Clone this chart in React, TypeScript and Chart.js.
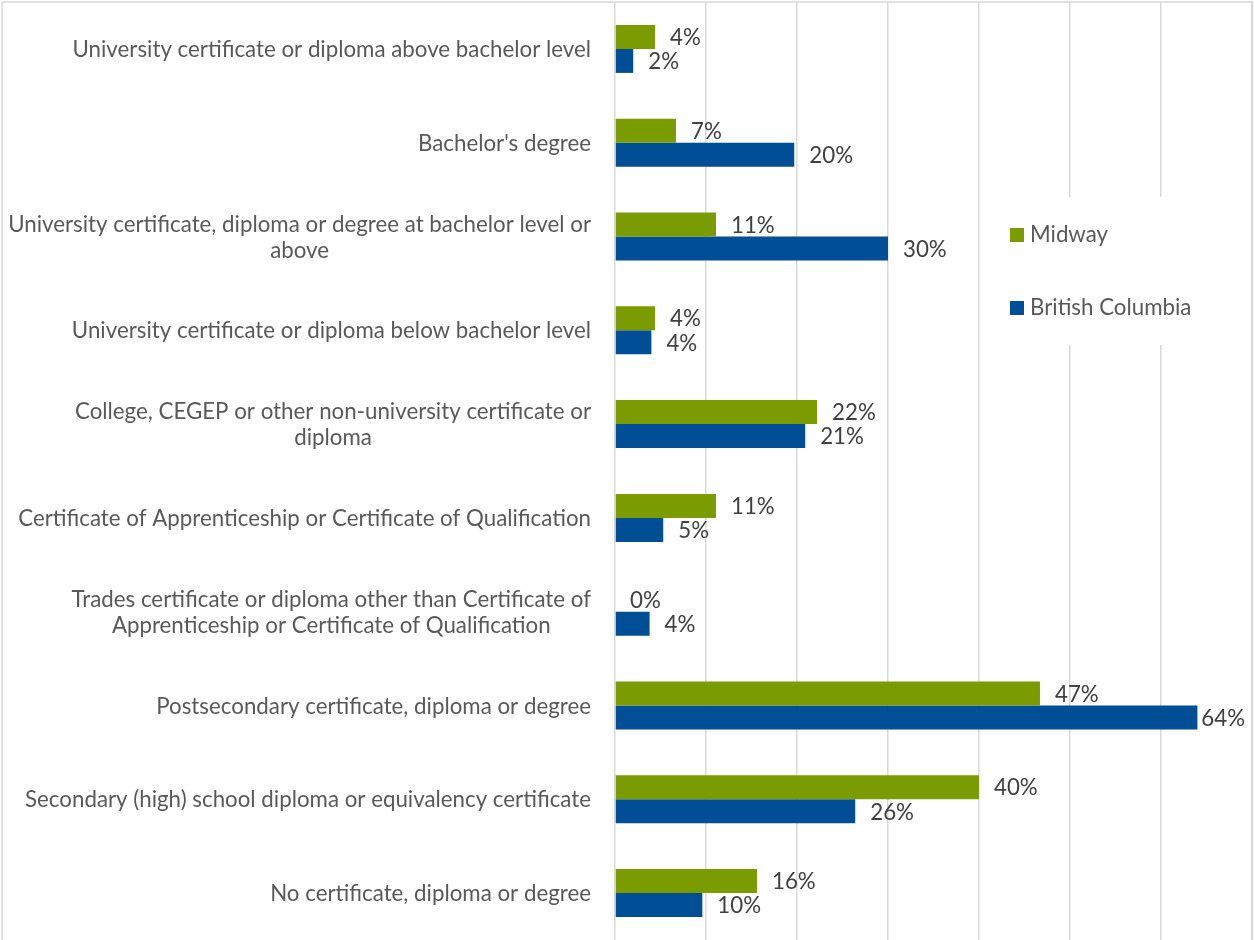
import React, { useEffect, useRef } from "react";
import { Chart, registerables } from "chart.js";

Chart.register(...registerables);

const categories: (string | string[])[] = [
  "University certificate or diploma above bachelor level",
  "Bachelor's degree",
  ["University certificate, diploma or degree at bachelor level or", "above"],
  "University certificate or diploma below bachelor level",
  ["College, CEGEP or other non-university certificate or", "diploma"],
  "Certificate of Apprenticeship or Certificate of Qualification",
  ["Trades certificate or diploma other than Certificate of", "Apprenticeship or Certificate of Qualification"],
  "Postsecondary certificate, diploma or degree",
  "Secondary (high) school diploma or equivalency certificate",
  "No certificate, diploma or degree",
];

const midwayValues = [4.4, 6.7, 11.1, 4.4, 22.2, 11.1, 0, 46.7, 40.0, 15.6];
const bcValues = [2.0, 19.7, 30.0, 4.0, 20.9, 5.3, 3.8, 64.0, 26.4, 9.6];

const seriesNames = ["Midway", "British Columbia"];
const seriesColors = ["#7a9c00", "#004e96"];

const FONT_FAMILY = "Lato, 'Open Sans', sans-serif";
const FONT_SIZE = 22.3;
const LINE_HEIGHT = 26;
const TEXT_COLOR = "#595959";
const LABEL_COLOR = "#404040";
const GRID_COLOR = "#d9d9d9";

const borderPlugin = {
  id: "outerBorder",
  beforeDraw(chart: any) {
    const ctx = chart.ctx;
    ctx.save();
    ctx.fillStyle = "#ffffff";
    ctx.fillRect(0, 0, chart.width, chart.height);
    ctx.strokeStyle = GRID_COLOR;
    ctx.lineWidth = 1.5;
    ctx.beginPath();
    ctx.moveTo(2, chart.height);
    ctx.lineTo(2, 2);
    ctx.lineTo(chart.width - 1.5, 2);
    ctx.lineTo(chart.width - 1.5, chart.height);
    ctx.stroke();
    ctx.restore();
  },
};

const categoryLabelPlugin = {
  id: "categoryLabels",
  afterDraw(chart: any) {
    const ctx = chart.ctx;
    const yScale = chart.scales.y;
    const rightEdge = chart.chartArea.left - 24;
    ctx.save();
    ctx.font = `${FONT_SIZE}px ${FONT_FAMILY}`;
    ctx.fillStyle = TEXT_COLOR;
    ctx.textBaseline = "middle";
    ctx.textAlign = "center";
    chart.data.labels.forEach((lab: string | string[], i: number) => {
      const lines = Array.isArray(lab) ? lab : [lab];
      const blockW = Math.max(...lines.map((l) => ctx.measureText(l).width));
      const cx = rightEdge - blockW / 2;
      const cy = yScale.getPixelForTick(i);
      const top = cy - ((lines.length - 1) * LINE_HEIGHT) / 2;
      lines.forEach((l, k) => ctx.fillText(l, cx, top + k * LINE_HEIGHT + 1));
    });
    ctx.restore();
  },
};

const valueLabelPlugin = {
  id: "valueLabels",
  afterDatasetsDraw(chart: any) {
    const ctx = chart.ctx;
    const right = chart.chartArea.right;
    ctx.save();
    ctx.font = `${FONT_SIZE}px ${FONT_FAMILY}`;
    ctx.fillStyle = LABEL_COLOR;
    ctx.textBaseline = "middle";
    ctx.textAlign = "left";
    chart.data.datasets.forEach((ds: any, di: number) => {
      const meta = chart.getDatasetMeta(di);
      meta.data.forEach((el: any, i: number) => {
        const text = Math.round(ds.data[i]) + "%";
        const w = ctx.measureText(text).width;
        let x = el.x + 15;
        if (x + w > right - 7) x = right - 7 - w;
        ctx.fillText(text, x, el.y + 1);
      });
    });
    ctx.restore();
  },
};

const legendPlugin = {
  id: "customLegend",
  afterDraw(chart: any) {
    const ctx = chart.ctx;
    ctx.save();
    ctx.fillStyle = "#ffffff";
    ctx.fillRect(990, 197, 258, 148);
    ctx.font = `${FONT_SIZE}px ${FONT_FAMILY}`;
    ctx.textBaseline = "middle";
    ctx.textAlign = "left";
    chart.data.datasets.forEach((ds: any, i: number) => {
      const cy = 235 + i * 73;
      ctx.fillStyle = ds.backgroundColor;
      ctx.fillRect(1010, cy - 7, 14, 14);
      ctx.fillStyle = TEXT_COLOR;
      ctx.fillText(ds.label, 1030, cy);
    });
    ctx.restore();
  },
};

export default function App() {
  const canvasRef = useRef<HTMLCanvasElement | null>(null);

  useEffect(() => {
    document.body.style.margin = "0";
    const canvas = canvasRef.current;
    if (!canvas) return;
    const chart = new Chart(canvas, {
      type: "bar",
      data: {
        labels: categories,
        datasets: [
          {
            label: seriesNames[0],
            data: midwayValues,
            backgroundColor: seriesColors[0],
            categoryPercentage: 0.512,
            barPercentage: 1,
          },
          {
            label: seriesNames[1],
            data: bcValues,
            backgroundColor: seriesColors[1],
            categoryPercentage: 0.512,
            barPercentage: 1,
          },
        ],
      },
      options: {
        indexAxis: "y",
        animation: false,
        responsive: false,
        maintainAspectRatio: false,
        layout: { padding: { top: 2, bottom: 0, right: 2, left: 0 } },
        plugins: {
          legend: { display: false },
          tooltip: { enabled: false },
        },
        scales: {
          x: {
            min: 0,
            max: 70,
            ticks: { display: false, stepSize: 10 },
            grid: { color: GRID_COLOR, lineWidth: 1.5, drawTicks: false },
            border: { display: false },
            afterFit(scale: any) {
              scale.height = 0;
              scale.paddingLeft = 0;
              scale.paddingRight = 0;
            },
          },
          y: {
            grid: { display: false, drawTicks: false },
            border: { display: false },
            ticks: { display: false, autoSkip: false },
            afterFit(scale: any) {
              scale.width = 615;
              scale.paddingTop = 0;
              scale.paddingBottom = 0;
            },
          },
        },
      },
      plugins: [borderPlugin, categoryLabelPlugin, valueLabelPlugin, legendPlugin],
    });
    return () => chart.destroy();
  }, []);

  return (
    <div style={{ width: 1254, height: 940, position: "relative" }}>
      <canvas ref={canvasRef} width={1254} height={940} style={{ display: "block" }} />
    </div>
  );
}
